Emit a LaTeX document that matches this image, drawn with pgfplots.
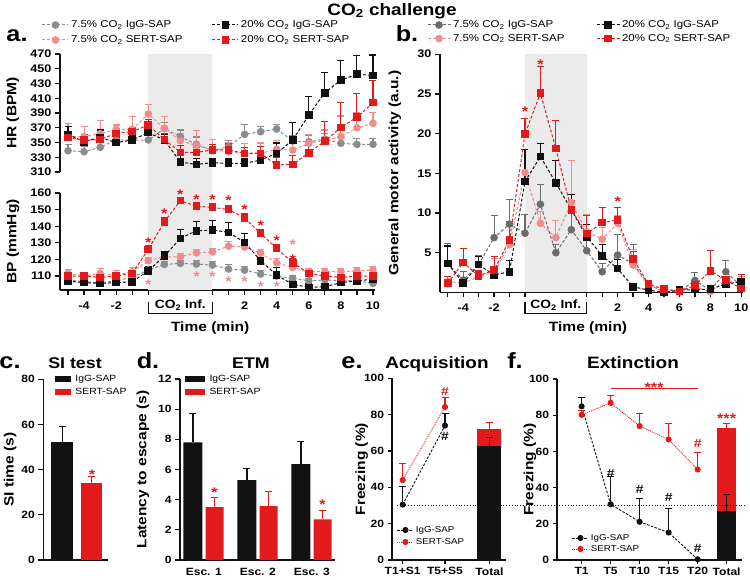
\documentclass[border=0pt]{standalone}
\usepackage{fontspec}
\setmainfont{Liberation Sans}[FakeStretch=1.15]
\usepackage{pgfplots}
\pgfplotsset{compat=1.18}
\definecolor{cRed}{HTML}{E31A1C}
\definecolor{cPink}{HTML}{F28B8B}
\definecolor{cGrayA}{HTML}{8C8C8C}
\definecolor{cGrayB}{HTML}{6B6B6B}
\definecolor{cShade}{HTML}{EBEBEB}
\definecolor{cBlack}{HTML}{111111}
\pgfplotsset{
 base/.style={scale only axis, anchor=south west,
   axis line style={line width=1.6pt, cBlack},
   tick style={line width=1.3pt, cBlack},
   tick align=outside, major tick length=5pt,
   /pgf/number format/assume math mode=true,
   tick label style={font=\bfseries\fontsize{11}{12}\selectfont},
   label style={font=\bfseries\fontsize{13.5}{15}\selectfont},
   axis x line*=bottom, axis y line*=left},
 errb/.style={error bars/.cd, y dir=plus, y explicit,
   error bar style={line width=1.1pt, solid, draw=#1},
   error mark options={rotate=90, mark size=3.5pt, line width=1.1pt, solid, draw=#1}},
 dsh/.style={line width=1pt, dash pattern=on 3pt off 2pt},
 sGa/.style={dsh, color=cGrayA, mark=*, mark size=3.3pt, mark options={solid, fill=cGrayA}},
 sGb/.style={dsh, color=cGrayB, mark=*, mark size=3.3pt, mark options={solid, fill=cGrayB}},
 sPk/.style={dsh, color=cPink, mark=*, mark size=3.3pt, mark options={solid, fill=cPink}},
 sBk/.style={dsh, color=cBlack, mark=square*, mark size=3.3pt, mark options={solid, fill=cBlack}},
 sRd/.style={dsh, color=cRed, mark=square*, mark size=3.3pt, mark options={solid, fill=cRed}},
 eBk/.style={line width=0.9pt, dash pattern=on 2.5pt off 1.5pt, color=cBlack, mark=*, mark size=2.6pt, mark options={solid, fill=cBlack}},
 eRd/.style={line width=0.9pt, dash pattern=on 1pt off 1pt, color=cRed, mark=*, mark size=2.6pt, mark options={solid, fill=cRed}},
 barst/.style={ybar, bar width=#1, bar shift=0pt, draw=none},
 lineleg/.style={legend image code/.code={\draw[mark repeat=2,mark phase=2,##1] plot coordinates {(0pt,0pt) (13pt,0pt) (26pt,0pt)};}},
 linelegb/.style={legend image code/.code={\draw[mark repeat=2,mark phase=2,##1] plot coordinates {(0pt,0pt) (11.5pt,0pt) (23pt,0pt)};}},
 linelegs/.style={legend image code/.code={\draw[mark repeat=2,mark phase=2,##1] plot coordinates {(0pt,0pt) (8pt,0pt) (16pt,0pt)};}},
 barleg/.style={legend image code/.code={\draw[line width=5.5pt,##1] (0pt,0pt) -- (#1,0pt);}},
 legax/.style={at={(0pt,-579pt)}, anchor=south west, scale only axis, width=750pt, height=579pt,
   hide axis, xmin=0, xmax=1, ymin=0, ymax=1, legend cell align=left,
   legend style={anchor=west, draw=none, fill=none, inner sep=0pt, outer sep=0pt,
     nodes={inner sep=0pt}, /tikz/every odd column/.style={column sep=2pt}}},
}
\tikzset{
 rst/.style={text=cRed, font=\bfseries\fontsize{14}{14}\selectfont, inner sep=0pt, yshift=-3pt},
 pst/.style={text=cPink, font=\bfseries\fontsize{14}{14}\selectfont, inner sep=0pt, yshift=-3pt},
 hsh/.style={font=\bfseries\fontsize{12}{12}\selectfont, inner sep=0pt},
 ttl/.style={anchor=base, font=\bfseries\fontsize{15.5}{17}\selectfont},
 ltr/.style={anchor=base, font=\bfseries\fontsize{22}{24}\selectfont},
}
\newcommand{\leg}[4]{%
 \pgfmathsetmacro{\lx}{#1/750}\pgfmathsetmacro{\ly}{1-#2/579}%
 \begin{axis}[legax, legend style={at={(axis description cs:\lx,\ly)}}]
 \addlegendimage{#3}
 \addlegendentry{#4}
 \end{axis}}
\newcommand{\COt}{CO\textsubscript{2}}
\begin{document}
\begin{tikzpicture}
\path[use as bounding box] (0pt,0pt) rectangle (750pt,-579pt);
% titles and letters
\node[anchor=base, font=\bfseries\fontsize{16.5}{18}\selectfont] at (392pt,-15pt) {\COt{} challenge};
\node[ltr] at (17pt,-41.7pt) {a.};
\node[ltr] at (407pt,-41.7pt) {b.};
\node[ltr] at (10pt,-368.3pt) {c.};
\node[ttl] at (75pt,-368.3pt) {SI test};
\node[ltr] at (148pt,-368.3pt) {d.};
\node[ttl] at (251pt,-368.3pt) {ETM};
\node[ltr] at (352pt,-368.3pt) {e.};
\node[ttl, font=\bfseries\fontsize{16.5}{18}\selectfont] at (437pt,-368.3pt) {Acquisition};
\node[ltr] at (515pt,-368.3pt) {f.};
\node[ttl, font=\bfseries\fontsize{16.5}{18}\selectfont] at (633pt,-368.3pt) {Extinction};

%%%%%%%% Panel a: HR
\begin{axis}[base, at={(60pt,-172pt)}, width=315.4pt, height=118pt,
  xmin=-5.5, xmax=14.15, ymin=310, ymax=470, axis x line=none, axis y line*=left,
  ytick={310,330,...,470}, ylabel={HR (BPM)},
  ylabel style={at={(axis description cs:-0.149,0.5)}, anchor=center}, clip=false]
\fill[cShade] (axis cs:0,280) rectangle (axis cs:4,470);
\addplot[sGa, errb=cGrayA] table[x index=0,y index=1,y error index=2] {
-5 338.9 8
-4 337.5 7
-3 343.4 7
-2 354 8
-1 353 8
0 353.4 8
1 369 8
2 358 9
3 347.5 10
4 338.9 8
5 344.3 9
6 361 14
7 364.6 7
8 368.3 6
9 352 8
10 351 8
11 354.7 8
12 348.9 8
13 347.5 8
14 347.5 8
};
\addplot[sPk, errb=cPink] table[x index=0,y index=1,y error index=2] {
-5 358 18
-4 358 14
-3 362 18
-2 367.8 6
-1 367.8 17
0 388.6 13
1 369.2 16
2 352.4 10
3 346 20
4 339.8 14
5 337.5 12
6 336 13
7 335.3 14
8 340.8 12
9 339.8 10
10 348.9 12
11 353 14
12 358 28
13 370 20
14 376 15
};
\addplot[sBk, errb=cBlack] table[x index=0,y index=1,y error index=2] {
-5 361.1 10
-4 351 7
-3 357 10
-2 349.8 7
-1 353.4 6
0 363.3 7
1 353.4 7
2 323.5 9
3 320.3 8
4 322.6 6
5 321.7 6
6 321.7 6
7 326.2 6
8 335.3 14
9 353.4 23.5
10 387.3 25
11 417.5 27
12 434.7 27
13 442.5 25
14 441 27.6
};
\addplot[sRd, errb=cRed] table[x index=0,y index=1,y error index=2] {
-5 357 8
-4 353 8
-3 354 7
-2 362.4 7
-1 364.7 6
0 373.7 7
1 354 8
2 336.7 9
3 336.7 7
4 339.8 7
5 340 8
6 335.3 8
7 335.3 9
8 319.5 10
9 320.4 12
10 336 10
11 352 27
12 370.6 34
13 384.2 32
14 404 30
};
\end{axis}

%%%%%%%% Panel a: BP
\begin{axis}[base, at={(60pt,-290pt)}, width=315.4pt, height=97pt,
  xmin=-5.5, xmax=14.15, ymin=101.6, ymax=160, ytick={110,120,...,160},
  xtick={-5,-4,-3,-2,-1,0,4,5,6,7,8,9,10,11,12,13,14},
  xticklabels={,-4,,-2,,,,,2,,4,,6,,8,,10},
  xticklabel style={yshift=-3pt},
  ylabel={BP (mmHg)}, ylabel style={at={(axis description cs:-0.149,0.5)}, anchor=center},
  xlabel={Time (min)}, xlabel style={at={(axis description cs:0.476,-0.39)}, anchor=center},
  clip=false]
\fill[cShade] (axis cs:0,101.6) rectangle (axis cs:4,160.8);
\addplot[sGa, errb=cGrayA] table[x index=0,y index=1,y error index=2] {
-5 107.6 2
-4 106.6 1.5
-3 106 1.5
-2 107.2 1.5
-1 109.2 2
0 113.6 2
1 117 2
2 117.6 2
3 117.2 2
4 116.6 2
5 114.2 2.5
6 113.6 2
7 111.2 2
8 110 2
9 108.6 2
10 107.2 1.5
11 107.6 2
12 107.2 1.5
13 107.2 1.5
14 105.6 2
};
\addplot[sPk, errb=cPink] table[x index=0,y index=1,y error index=2] {
-5 111.6 2.5
-4 110 2
-3 111.6 3
-2 110.6 2.5
-1 112.6 2.5
0 119.2 2
1 121.6 2.5
2 121.6 2
3 124 2
4 124.6 2
5 128 2.7
6 127.5 2.5
7 123.7 2.5
8 118 2.5
9 115.2 2.5
10 112.6 2
11 112.6 2
12 112.6 2
13 113 2
14 113.6 2
};
\addplot[sBk, errb=cBlack] table[x index=0,y index=1,y error index=2] {
-5 107 2
-4 106 1.5
-3 105.6 1.5
-2 106 1.5
-1 106.6 1.5
0 113.2 2.5
1 122 2.5
2 132.7 5.3
3 137.3 5.6
4 137.7 5.8
5 136.3 6
6 130.3 5.4
7 119.2 5.4
8 110.6 4.5
9 105 2.5
10 103.2 2
11 103.6 2
12 106 2
13 107.2 2
14 108 2
};
\addplot[sRd, errb=cRed] table[x index=0,y index=1,y error index=2] {
-5 110 1.5
-4 110 1.5
-3 109.2 2
-2 110 2
-1 111.6 2
0 126 2.5
1 142.7 2.5
2 155.4 2
3 152 2.5
4 151.4 2.5
5 150 2.5
6 145 2.5
7 135.7 2.5
8 126.7 2.5
9 118 2.5
10 111.6 2
11 110 2
12 109.2 2
13 110 2
14 110 2
};
\node[rst] at (axis cs:0,131.7) {*};
\node[rst] at (axis cs:1,149.3) {*};
\node[rst] at (axis cs:2,160.8) {*};
\node[rst] at (axis cs:3,158) {*};
\node[rst] at (axis cs:4,158) {*};
\node[rst] at (axis cs:5,156.9) {*};
\node[rst] at (axis cs:6,151.8) {*};
\node[rst] at (axis cs:7,142.3) {*};
\node[rst] at (axis cs:8,133.3) {*};
\node[rst] at (axis cs:9,121.8) {*};
\node[pst] at (axis cs:9,130.8) {*};
\node[pst] at (axis cs:0,106.6) {*};
\node[pst] at (axis cs:3,111.2) {*};
\node[pst] at (axis cs:4,111.2) {*};
\node[pst] at (axis cs:5,108.6) {*};
\node[pst] at (axis cs:6,108.6) {*};
\node[pst] at (axis cs:7,105.2) {*};
\node[pst] at (axis cs:8,105.2) {*};
\draw[line width=1.3pt, cBlack] (axis cs:0,94.55) -- (axis cs:0,87.6) -- (axis cs:4,87.6) -- (axis cs:4,94.55);
\node[font=\bfseries\fontsize{12}{13}\selectfont, inner sep=0pt] at (axis cs:2,92.3) {\COt{} Inf.};
\end{axis}

%%%%%%%% Panel b
\begin{axis}[base, at={(440pt,-292.4pt)}, width=302.8pt, height=238.2pt,
  xmin=-5.5, xmax=14.1, ymin=0, ymax=30, ytick={5,10,...,30},
  xtick={-5,-4,-3,-2,-1,0,4,5,6,7,8,9,10,11,12,13,14},
  xticklabels={,-4,,-2,,,,,2,,4,,6,,8,,10},
  xticklabel style={yshift=-3pt},
  ylabel={General motor activity (a.u.)}, ylabel style={at={(axis description cs:-0.149,0.5)}, anchor=center},
  xlabel={Time (min)}, xlabel style={at={(axis description cs:0.489,-0.149)}, anchor=center},
  clip=false]
\fill[cShade] (axis cs:0,0) rectangle (axis cs:4,30);
\addplot[sGb, errb=cGrayB] table[x index=0,y index=1,y error index=2] {
-5 3.65 2.5
-4 1.55 1.1
-3 3.5 1.2
-2 6.9 2.8
-1 8.6 3.1
0 7.45 2.4
1 11.1 2.5
2 5.0 1
3 7.9 4.4
4 5.25 1.5
5 2.6 1.0
6 4.7 2.6
7 3.6 2.4
8 1.05 0.5
9 0 0.3
10 0.1 0.3
11 1.5 1.0
12 0.25 0.3
13 2.6 1.4
14 0.8 0.8
};
\addplot[sPk, errb=cPink] table[x index=0,y index=1,y error index=2] {
-5 1.35 0.6
-4 1.2 0.4
-3 2.0 0.4
-2 2.6 1.7
-1 6.0 2.9
0 15.1 2.9
1 8.7 1.5
2 6.9 2.2
3 11.3 5.3
4 7.65 2.1
5 6.7 1.5
6 8.7 1.0
7 3.45 1.9
8 0.8 0.5
9 0.4 0.3
10 0.25 0.3
11 0.7 0.5
12 0.1 0.3
13 1.55 0.5
14 1.15 0.8
};
\addplot[sBk, errb=cBlack] table[x index=0,y index=1,y error index=2] {
-5 3.65 2.2
-4 1.15 0.6
-3 3.5 1.0
-2 2.2 1.0
-1 2.6 1.4
0 13.95 4.0
1 17.1 1.7
2 13.8 2.8
3 10.4 1.9
4 7.0 1.5
5 4.6 1.4
6 3.0 1.2
7 0.7 0.3
8 0.3 0.3
9 0 0.2
10 0.3 0.3
11 0.35 0.3
12 0.4 0.3
13 1.05 0.6
14 1.35 0.9
};
\addplot[sRd, errb=cRed] table[x index=0,y index=1,y error index=2] {
-5 1.15 0.8
-4 3.75 1.8
-3 2.1 0.6
-2 2.8 1.7
-1 6.6 2.3
0 19.95 2.0
1 25.1 3.4
2 18.1 3.5
3 10.4 1.2
4 7.4 2.3
5 8.8 1.9
6 9.1 1.6
7 4.2 0.9
8 1.05 0.3
9 0.4 0.3
10 0.1 0.3
11 0.9 0.6
12 2.7 2.55
13 1.55 0.5
14 0.5 1.7
};
\node[rst] at (axis cs:0,23.1) {*};
\node[rst] at (axis cs:1,29.1) {*};
\node[rst] at (axis cs:6,11.85) {*};
\draw[line width=1.3pt, cBlack] (axis cs:0,-1.18) -- (axis cs:0,-2.63) -- (axis cs:4,-2.63) -- (axis cs:4,-1.18);
\node[font=\bfseries\fontsize{12}{13}\selectfont, inner sep=0pt] at (axis cs:2,-1.65) {\COt{} Inf.};
\end{axis}

%%%%%%%% Panel c
\begin{axis}[base, at={(43.3pt,-560pt)}, width=65pt, height=180.7pt,
  xmin=0.37, xmax=2.55, ymin=0, ymax=80, ytick={0,20,...,80}, xtick=\empty,
  tick label style={font=\bfseries\fontsize{10.5}{12}\selectfont},
  ylabel={SI time (s)}, ylabel style={at={(axis description cs:-0.51,0.5)}, anchor=center}]
\addplot[barst=22pt, fill=cBlack, errb=cBlack] coordinates {(1,52.3) +- (0,7)};
\addplot[barst=21pt, fill=cRed, errb=cRed] coordinates {(2,34) +- (0,2.8)};
\node[rst] at (axis cs:2,39.3) {*};
\end{axis}

%%%%%%%% Panel d
\begin{axis}[base, at={(180pt,-560pt)}, width=155pt, height=181pt,
  xmin=0.56, xmax=3.43, ymin=0, ymax=12, ytick={0,2,...,12},
  xtick={1,2,3}, xticklabels={Esc. 1,Esc. 2,Esc. 3}, x tick style={draw=none},
  tick label style={font=\bfseries\fontsize{10.5}{12}\selectfont},
  ylabel={Latency to escape (s)}, ylabel style={at={(axis description cs:-0.24,0.5)}, anchor=center}]
\addplot[barst=19pt, fill=cBlack, errb=cBlack] coordinates {(0.8,7.8) +- (0,1.9) (1.8,5.3) +- (0,0.75) (2.8,6.35) +- (0,1.5)};
\addplot[barst=18pt, fill=cRed, errb=cRed] coordinates {(1.2,3.5) +- (0,0.65) (2.2,3.58) +- (0,0.95) (3.2,2.7) +- (0,0.6)};
\node[rst] at (axis cs:1.2,4.64) {*};
\node[rst] at (axis cs:3.2,3.87) {*};
\end{axis}

%%%%%%%% Panel e
\begin{axis}[base, at={(391.7pt,-560pt)}, width=113.8pt, height=181.7pt,
  xmin=-0.26, xmax=2.43, ymin=0, ymax=100, ytick={0,20,...,100},
  xtick={0,1,2.05}, xticklabels={T1+S1,T5+S5,Total}, major tick length=4pt,
  tick label style={font=\bfseries\fontsize{10.5}{12}\selectfont},
  ylabel={Freezing (\%)}, ylabel style={at={(axis description cs:-0.265,0.5)}, anchor=center}]
\addplot[barst=24pt, fill=cRed, errb=cRed] coordinates {(2.05,72) +- (0,3.5)};
\addplot[barst=24pt, fill=cBlack, errb=cBlack] coordinates {(2.05,62.5) +- (0,5)};
\addplot[eBk, errb=cBlack] coordinates {(0,30.5) +- (0,10) (1,74) +- (0,6.5)};
\addplot[eRd, errb=cRed] coordinates {(0,44) +- (0,9) (1,84.2) +- (0,5)};
\node[hsh, text=cRed] at (axis cs:1,92.6) {\#};
\node[hsh, text=cBlack] at (axis cs:1,67.9) {\#};
\end{axis}

%%%%%%%% Panel f
\begin{axis}[base, at={(556.7pt,-560pt)}, width=185pt, height=181pt,
  xmin=-0.86, xmax=5.52, ymin=0, ymax=100, ytick={0,20,...,100},
  xtick={0,1,2,3,4,5}, xticklabels={T1,T5,T10,T15,T20,Total}, major tick length=4pt,
  tick label style={font=\bfseries\fontsize{10.5}{12}\selectfont},
  ylabel={Freezing (\%)}, ylabel style={at={(axis description cs:-0.145,0.5)}, anchor=center},
  clip=false]
\addplot[barst=19pt, fill=cRed, errb=cRed] coordinates {(5,72.8) +- (0,2.7)};
\addplot[barst=19pt, fill=cBlack, errb=cBlack] coordinates {(5,27.1) +- (0,9.1)};
\addplot[eBk, errb=cBlack] coordinates {(0,84.9) +- (0,5) (1,30.8) +- (0,15.4) (2,21.1) +- (0,12.9) (3,15.2) +- (0,13.3) (4,0.4) +- (0,0)};
\addplot[eRd, errb=cRed] coordinates {(0,80.2) +- (0,2.4) (1,86.8) +- (0,4.0) (2,74) +- (0,6.7) (3,66.6) +- (0,8.6) (4,50) +- (0,9.3)};
\draw[dotted, line width=0.8pt, cBlack] (axis cs:-6.37,30) -- (axis cs:5.63,30);
\draw[line width=1pt, cRed] (axis cs:1,94.5) -- (axis cs:4,94.5);
\node[rst, anchor=south] at (axis cs:2.5,94) {***};
\node[rst] at (axis cs:5,79.8) {***};
\node[hsh, text=cBlack] at (axis cs:1,48.1) {\#};
\node[hsh, text=cBlack] at (axis cs:2,38.9) {\#};
\node[hsh, text=cBlack] at (axis cs:3,34.8) {\#};
\node[hsh, text=cBlack] at (axis cs:4,6.4) {\#};
\node[hsh, text=cRed] at (axis cs:4,64.2) {\#};
\end{axis}

%%%%%%%% Legends
\leg{42}{25}{lineleg, sGa}{\fontsize{10}{12}\selectfont 7.5\% \COt{} IgG-SAP}
\leg{42}{40}{lineleg, sPk}{\fontsize{10}{12}\selectfont 7.5\% \COt{} SERT-SAP}
\leg{212}{25}{lineleg, sBk}{\fontsize{10}{12}\selectfont 20\% \COt{} IgG-SAP}
\leg{212}{40}{lineleg, sRd}{\fontsize{10}{12}\selectfont 20\% \COt{} SERT-SAP}
\leg{427}{25}{linelegb, sGb}{\fontsize{10}{12}\selectfont 7.5\% \COt{} IgG-SAP}
\leg{427}{38.5}{linelegb, sPk}{\fontsize{10}{12}\selectfont 7.5\% \COt{} SERT-SAP}
\leg{596}{25}{linelegb, sBk}{\fontsize{10}{12}\selectfont 20\% \COt{} IgG-SAP}
\leg{596}{38.5}{linelegb, sRd}{\fontsize{10}{12}\selectfont 20\% \COt{} SERT-SAP}
\leg{52}{379}{barleg=16pt, cBlack}{\fontsize{9}{11}\selectfont IgG-SAP}
\leg{52}{392}{barleg=16pt, cRed}{\fontsize{9}{11}\selectfont SERT-SAP}
\leg{182}{379}{barleg=20pt, cBlack}{\fontsize{9}{11}\selectfont IgG-SAP}
\leg{182}{392}{barleg=20pt, cRed}{\fontsize{9}{11}\selectfont SERT-SAP}
\leg{397}{530}{linelegs, eBk}{\fontsize{8.5}{10}\selectfont IgG-SAP}
\leg{397}{542}{linelegs, eRd}{\fontsize{8.5}{10}\selectfont SERT-SAP}
\leg{572}{538}{linelegs, eBk}{\fontsize{8.5}{10}\selectfont IgG-SAP}
\leg{572}{549}{linelegs, eRd}{\fontsize{8.5}{10}\selectfont SERT-SAP}
\end{tikzpicture}
\end{document}
